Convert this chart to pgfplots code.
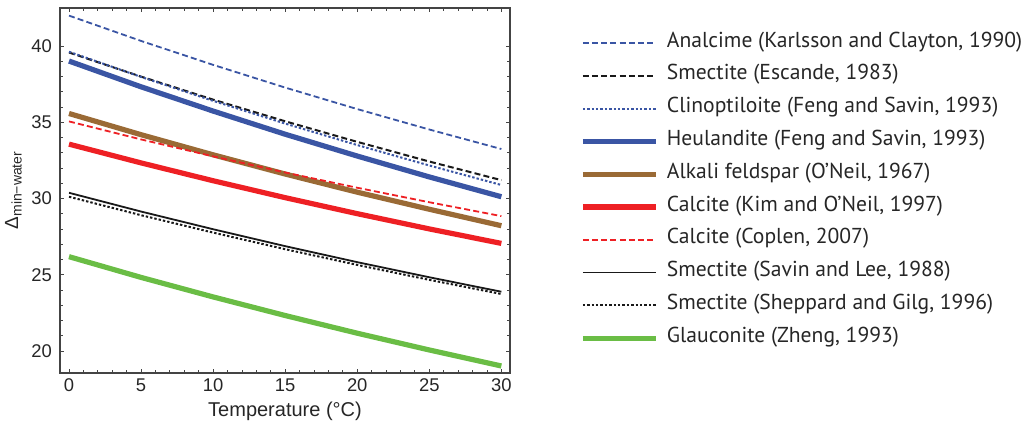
\documentclass[border=0pt]{standalone}
\usepackage{pgfplots}
\pgfplotsset{compat=1.18}
\usepackage{fontspec}
\setmainfont{Liberation Sans}
\newfontfamily\legendfont{PT Sans}
\definecolor{cblue}{HTML}{3A55A4}
\definecolor{cbrown}{HTML}{9A6A35}
\definecolor{cred}{HTML}{EE2024}
\definecolor{cgreen}{HTML}{6ABD45}
\definecolor{cframe}{HTML}{444444}
\begin{document}
\begin{tikzpicture}
\useasboundingbox (-30pt,-25pt) rectangle (483.5pt,186.5pt);
\begin{axis}[
  at={(0,0)}, anchor=south west,
  scale only axis, width=225pt, height=182.5pt,
  xmin=-0.625, xmax=30.6, ymin=18.56, ymax=42.5,
  xtick={0,5,...,30}, ytick={20,25,...,40},
  minor tick num=4,
  tick align=inside,
  major tick length=2.2pt, minor tick length=1.3pt,
  axis line style={cframe, line width=0.6pt},
  every tick/.style={cframe, line width=0.4pt},
  /pgf/number format/assume math mode=true,
  tick label style={font=\fontsize{9.2}{10}\selectfont, text=black!85},
  xticklabel style={yshift=0.5pt},
  yticklabel style={xshift=-0.5pt},
  xlabel={Temperature (°C)},
  xlabel style={font=\fontsize{10}{12}\selectfont, text=black!85, yshift=2pt},
  ylabel={Δ\raisebox{-0.35ex}{\fontsize{7}{8}\selectfont min−water}},
  ylabel style={font=\fontsize{9.5}{11}\selectfont, text=black!85, yshift=-2pt},
  legend cell align=left,
  legend style={at={(1.155,0.936)}, anchor=north west, draw=none, fill=none,
    inner sep=0pt, row sep=5.2pt, column sep=0pt,
    font=\legendfont\fontsize{10.8}{12}\selectfont, text=black!85,
    nodes={inner sep=0pt, text height=7.7pt, text depth=3.5pt}},
  legend image code/.code={\draw[#1] (0pt,0pt) -- (36.5pt,0pt); \path (40.8pt,0pt);},
]
\addplot[cblue, line width=0.9pt, dash pattern=on 3pt off 1.6pt] coordinates {(0,42.00) (5,40.34) (10,38.77) (15,37.28) (20,35.87) (25,34.53) (30,33.25)};
\addlegendentry{Analcime (Karlsson and Clayton, 1990)}
\addplot[black!90, line width=1.0pt, dash pattern=on 3pt off 1.6pt] coordinates {(0,39.58) (5,38.00) (10,36.49) (15,35.07) (20,33.72) (25,32.43) (30,31.21)};
\addlegendentry{Smectite (Escande, 1983)}
\addplot[cblue, line width=1.0pt, dash pattern=on 1.2pt off 1.0pt] coordinates {(0,39.63) (5,37.98) (10,36.41) (15,34.92) (20,33.51) (25,32.17) (30,30.89)};
\addlegendentry{Clinoptiloite (Feng and Savin, 1993)}
\addplot[cblue, line width=2.6pt] coordinates {(0,39.02) (5,37.33) (10,35.74) (15,34.22) (20,32.79) (25,31.42) (30,30.12)};
\addlegendentry{Heulandite (Feng and Savin, 1993)}
\addplot[cbrown, line width=2.6pt] coordinates {(0,35.58) (5,34.19) (10,32.87) (15,31.61) (20,30.42) (25,29.30) (30,28.22)};
\addlegendentry{Alkali feldspar (O’Neil, 1967)}
\addplot[cred, line width=2.6pt] coordinates {(0,33.57) (5,32.34) (10,31.17) (15,30.06) (20,29.01) (25,28.01) (30,27.06)};
\addlegendentry{Calcite (Kim and O’Neil, 1997)}
\addplot[cred, line width=0.9pt, dash pattern=on 3pt off 1.6pt] coordinates {(0,35.06) (5,33.88) (10,32.77) (15,31.71) (20,30.71) (25,29.76) (30,28.85)};
\addlegendentry{Calcite (Coplen, 2007)}
\addplot[black!90, line width=0.9pt] coordinates {(0,30.38) (5,29.15) (10,27.99) (15,26.88) (20,25.83) (25,24.84) (30,23.89)};
\addlegendentry{Smectite (Savin and Lee, 1988)}
\addplot[black!90, line width=1.0pt, dash pattern=on 1.2pt off 1.0pt] coordinates {(0,30.12) (5,28.91) (10,27.77) (15,26.68) (20,25.65) (25,24.67) (30,23.74)};
\addlegendentry{Smectite (Sheppard and Gilg, 1996)}
\addplot[cgreen, line width=2.6pt] coordinates {(0,26.19) (5,24.83) (10,23.55) (15,22.33) (20,21.17) (25,20.07) (30,19.02)};
\addlegendentry{Glauconite (Zheng, 1993)}
\end{axis}
\end{tikzpicture}
\end{document}
